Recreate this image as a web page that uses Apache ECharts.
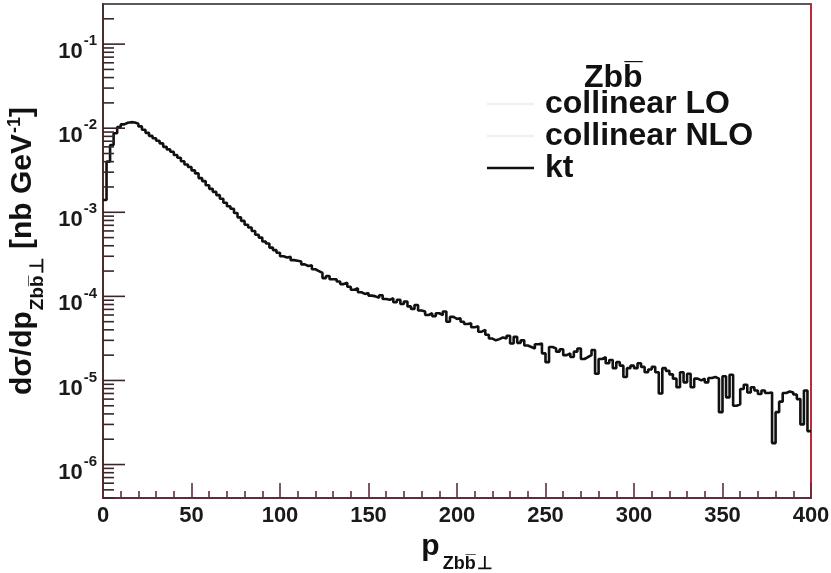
<!DOCTYPE html>
<html>
<head>
<meta charset="utf-8">
<script src="https://cdn.jsdelivr.net/npm/echarts@6/dist/echarts.min.js"></script>
<style>
html,body{margin:0;padding:0;background:#fff;}
#chart{width:831px;height:573px;}
</style>
</head>
<body>
<div id="chart"></div>
<script>
// ---- data ----
const binWidth = 2;            // GeV
const xTicks = [0, 50, 100, 150, 200, 250, 300, 350, 400];
const yDecades = [1e-6, 1e-5, 1e-4, 1e-3, 1e-2, 1e-1];
const yMinorMultipliers = [2, 3, 4, 5, 6, 7, 8, 9];
const legendNames = ['collinear LO', 'collinear NLO', 'kt'];
const collinearLO = [];
const collinearNLO = [];
const kt = [
1.4e-3, 4.0e-3, 6.3e-3, 8.7e-3, 1.03e-2, 1.11e-2, 1.16e-2, 1.18e-2, 1.17e-2, 1.13e-2,
1.05e-2, 9.6e-3, 8.8e-3, 8.1e-3, 7.6e-3, 7.1e-3, 6.6e-3, 6.0e-3, 5.6e-3, 5.25e-3,
4.8e-3, 4.45e-3, 4.05e-3, 3.7e-3, 3.45e-3, 3.15e-3, 2.9e-3, 2.55e-3, 2.35e-3, 2.1e-3,
1.9e-3, 1.75e-3, 1.6e-3, 1.45e-3, 1.3e-3, 1.18e-3, 1.1e-3, 9.8e-4, 8.7e-4, 7.9e-4,
7.1e-4, 6.6e-4, 6.0e-4, 5.4e-4, 5.0e-4, 4.5e-4, 4.25e-4, 3.8e-4, 3.55e-4, 3.3e-4,
3.0e-4, 2.9e-4, 2.95e-4, 2.7e-4, 2.65e-4, 2.6e-4, 2.4e-4, 2.3e-4, 2.35e-4, 2.1e-4,
2.0e-4, 1.9e-4, 1.65e-4, 1.75e-4, 1.6e-4, 1.6e-4, 1.5e-4, 1.4e-4, 1.45e-4, 1.3e-4,
1.2e-4, 1.25e-4, 1.12e-4, 1.07e-4, 1.1e-4, 1.02e-4, 1.0e-4, 9.6e-5, 1.03e-4, 9.3e-5,
9.1e-5, 9.5e-5, 8.5e-5, 9.1e-5, 8.1e-5, 8.7e-5, 7.6e-5, 7.1e-5, 7.9e-5, 6.8e-5,
6.6e-5, 6.0e-5, 6.3e-5, 5.8e-5, 6.3e-5, 6.0e-5, 6.6e-5, 5.0e-5, 5.7e-5, 5.4e-5,
5.5e-5, 5.0e-5, 4.7e-5, 4.8e-5, 4.3e-5, 4.4e-5, 3.8e-5, 4.0e-5, 3.5e-5, 3.15e-5,
3.0e-5, 3.1e-5, 3.25e-5, 3.15e-5, 3.4e-5, 2.75e-5, 3.3e-5, 2.8e-5, 3.0e-5, 2.6e-5,
2.5e-5, 2.4e-5, 2.7e-5, 2.75e-5, 2.1e-5, 1.65e-5, 2.5e-5, 2.4e-5, 2.2e-5, 2.35e-5,
2.0e-5, 2.1e-5, 1.9e-5, 2.2e-5, 2.4e-5, 1.8e-5, 1.9e-5, 2.0e-5, 2.3e-5, 1.2e-5,
1.8e-5, 1.9e-5, 1.6e-5, 1.75e-5, 1.4e-5, 1.65e-5, 1.5e-5, 1.1e-5, 1.4e-5, 1.5e-5,
1.4e-5, 1.6e-5, 1.45e-5, 1.25e-5, 1.35e-5, 1.45e-5, 1.25e-5, 7.0e-6, 1.4e-5, 1.3e-5,
1.18e-5, 1.05e-5, 8.3e-6, 1.25e-5, 9.5e-6, 1.2e-5, 8.3e-6, 1.05e-5, 1.0e-5, 1.05e-5,
9.5e-6, 1.07e-5, 1.1e-5, 1.05e-5, 4.2e-6, 1.12e-5, 6.3e-6, 1.17e-5, 5.0e-6, 5.2e-6,
7.9e-6, 8.9e-6, 7.2e-6, 8.3e-6, 7.6e-6, 6.9e-6, 7.6e-6, 7.1e-6, 7.2e-6, 1.8e-6,
4.2e-6, 5.6e-6, 7.1e-6, 7.4e-6, 7.2e-6, 6.8e-6, 6.0e-6, 3.0e-6, 7.6e-6, 2.5e-6
];
const yMin = 4e-7, yMax = 0.3;

// ---- build ----
const FONT = "'Liberation Sans', Arial, Helvetica, sans-serif";
const ktData = kt.map((v, i) => [i * binWidth, v]);
ktData.push([kt.length * binWidth, kt[kt.length - 1]]);

const majorTicks = yDecades.map(v => [0, v]);
const minorTicks = [];
for (let k = -7; k <= 0; k++) {
  yMinorMultipliers.forEach(m => {
    const v = m * Math.pow(10, k);
    if (v >= yMin && v <= yMax) minorTicks.push([0, v]);
  });
}

function tickRenderer(len) {
  return function (params, api) {
    const p = api.coord([api.value(0), api.value(1)]);
    return {
      type: 'line',
      shape: { x1: p[0], y1: p[1], x2: p[0] + len, y2: p[1] },
      style: { stroke: '#3a2626', lineWidth: 1.6 }
    };
  };
}

const chart = echarts.init(document.getElementById('chart'), null, { renderer: 'canvas' });
chart.setOption({
  backgroundColor: '#ffffff',
  animation: false,
  textStyle: { fontFamily: FONT },
  grid: {
    left: 103, right: 20, top: 4, bottom: 75,
    outerBoundsMode: 'none', containLabel: false,
    show: true, borderColor: '#2b2222', borderWidth: 1.5, backgroundColor: 'transparent'
  },
  legend: {
    data: legendNames.map(n => ({ name: n, icon: 'rect' })),
    orient: 'vertical',
    left: 487, top: 88,
    itemWidth: 47, itemHeight: 2.6, itemGap: 0,
    padding: 0,
    selectedMode: false,
    textStyle: { fontSize: 32, fontWeight: 'bold', color: '#111', lineHeight: 30, fontFamily: FONT, padding: [0, 0, 0, 6] }
  },
  graphic: [
    {
      type: 'text', left: 584, top: 62,
      style: { text: 'Zbb\u0305', font: 'bold 32px ' + FONT, fill: '#111' }
    }
  ],
  xAxis: {
    type: 'value', min: 0, max: 400, interval: 50,
    axisLine: { show: true, lineStyle: { color: '#5e2e38', width: 2 } },
    axisTick: { show: true, inside: true, length: 15, lineStyle: { color: '#5e2e38', width: 1.6 } },
    minorTick: { show: true, splitNumber: 5, length: 7, lineStyle: { color: '#5e2e38', width: 1.6 } },
    splitLine: { show: false },
    axisLabel: {
      fontSize: 22, fontWeight: 'bold', color: '#1a1a1a', margin: 7, fontFamily: FONT,
      formatter: v => (xTicks.indexOf(v) >= 0 ? String(v) : '')
    },
    name: '{p|p}{s|Zbb\u0305}{t|\u22A5}',
    nameLocation: 'middle', nameGap: 20,
    nameTextStyle: {
      rich: {
        p: { fontSize: 30, fontWeight: 'bold', color: '#111', fontFamily: FONT, verticalAlign: 'middle' },
        s: { fontSize: 18, fontWeight: 'bold', color: '#111', fontFamily: FONT, verticalAlign: 'middle', padding: [34, 0, 0, 3] },
        t: { fontSize: 18, fontWeight: 'bold', color: '#111', fontFamily: FONT, verticalAlign: 'middle', padding: [34, 0, 0, 1] }
      }
    }
  },
  yAxis: [
    {
      type: 'log', logBase: 10, min: yMin, max: yMax,
      axisLine: { show: true, lineStyle: { color: '#4a2e2e', width: 2 } },
      axisTick: { show: false },
      minorTick: { show: false },
      splitLine: { show: false },
      axisLabel: {
        margin: 6,
        formatter: function (v) {
          const e = Math.log10(v);
          const r = Math.round(e);
          if (Math.abs(e - r) > 1e-6) return '';
          return '{b|10}{u|' + r + '}';
        },
        rich: {
          b: { fontSize: 22, fontWeight: 'bold', color: '#1a1a1a', fontFamily: FONT, verticalAlign: 'middle', padding: [16, 0, 0, 0] },
          u: { fontSize: 15, fontWeight: 'bold', color: '#1a1a1a', fontFamily: FONT, verticalAlign: 'middle', padding: [0, 0, 6, 1] }
        }
      },
      name: '{m|d\u03C3/dp}{s|Zbb\u0305}{t|\u22A5}{m| [nb GeV}{u|-1}{m|]}',
      nameLocation: 'middle', nameRotate: 90, nameGap: 40,
      nameTextStyle: {
        rich: {
          m: { fontSize: 30, fontWeight: 'bold', color: '#111', fontFamily: FONT, verticalAlign: 'middle' },
          s: { fontSize: 19, fontWeight: 'bold', color: '#111', fontFamily: FONT, verticalAlign: 'middle', padding: [30, 0, 0, 1] },
          t: { fontSize: 19, fontWeight: 'bold', color: '#111', fontFamily: FONT, verticalAlign: 'middle', padding: [30, 0, 0, 1] },
          u: { fontSize: 18, fontWeight: 'bold', color: '#111', fontFamily: FONT, verticalAlign: 'middle', padding: [0, 0, 16, 1] }
        }
      }
    },
    {
      type: 'log', logBase: 10, min: yMin, max: yMax, position: 'right',
      axisLine: { show: true, lineStyle: { color: '#c0283c', width: 2 } },
      axisTick: { show: false }, axisLabel: { show: false }, splitLine: { show: false }
    }
  ],
  series: [
    {
      name: 'collinear LO', type: 'line', data: collinearLO, symbol: 'none',
      lineStyle: { color: '#f0f0f0', width: 1 }, itemStyle: { color: '#f0f0f0' }
    },
    {
      name: 'collinear NLO', type: 'line', data: collinearNLO, symbol: 'none',
      lineStyle: { color: '#f0f0f0', width: 1 }, itemStyle: { color: '#f0f0f0' }
    },
    {
      name: 'kt', type: 'line', step: 'end', data: ktData, symbol: 'none',
      lineStyle: { color: '#111111', width: 2.6 }, itemStyle: { color: '#111111' }
    },
    {
      type: 'custom', data: majorTicks, renderItem: tickRenderer(22), silent: true, clip: false,
      encode: { x: 0, y: 1 }, z: 5
    },
    {
      type: 'custom', data: minorTicks, renderItem: tickRenderer(11), silent: true, clip: false,
      encode: { x: 0, y: 1 }, z: 5
    }
  ]
});
</script>
</body>
</html>
